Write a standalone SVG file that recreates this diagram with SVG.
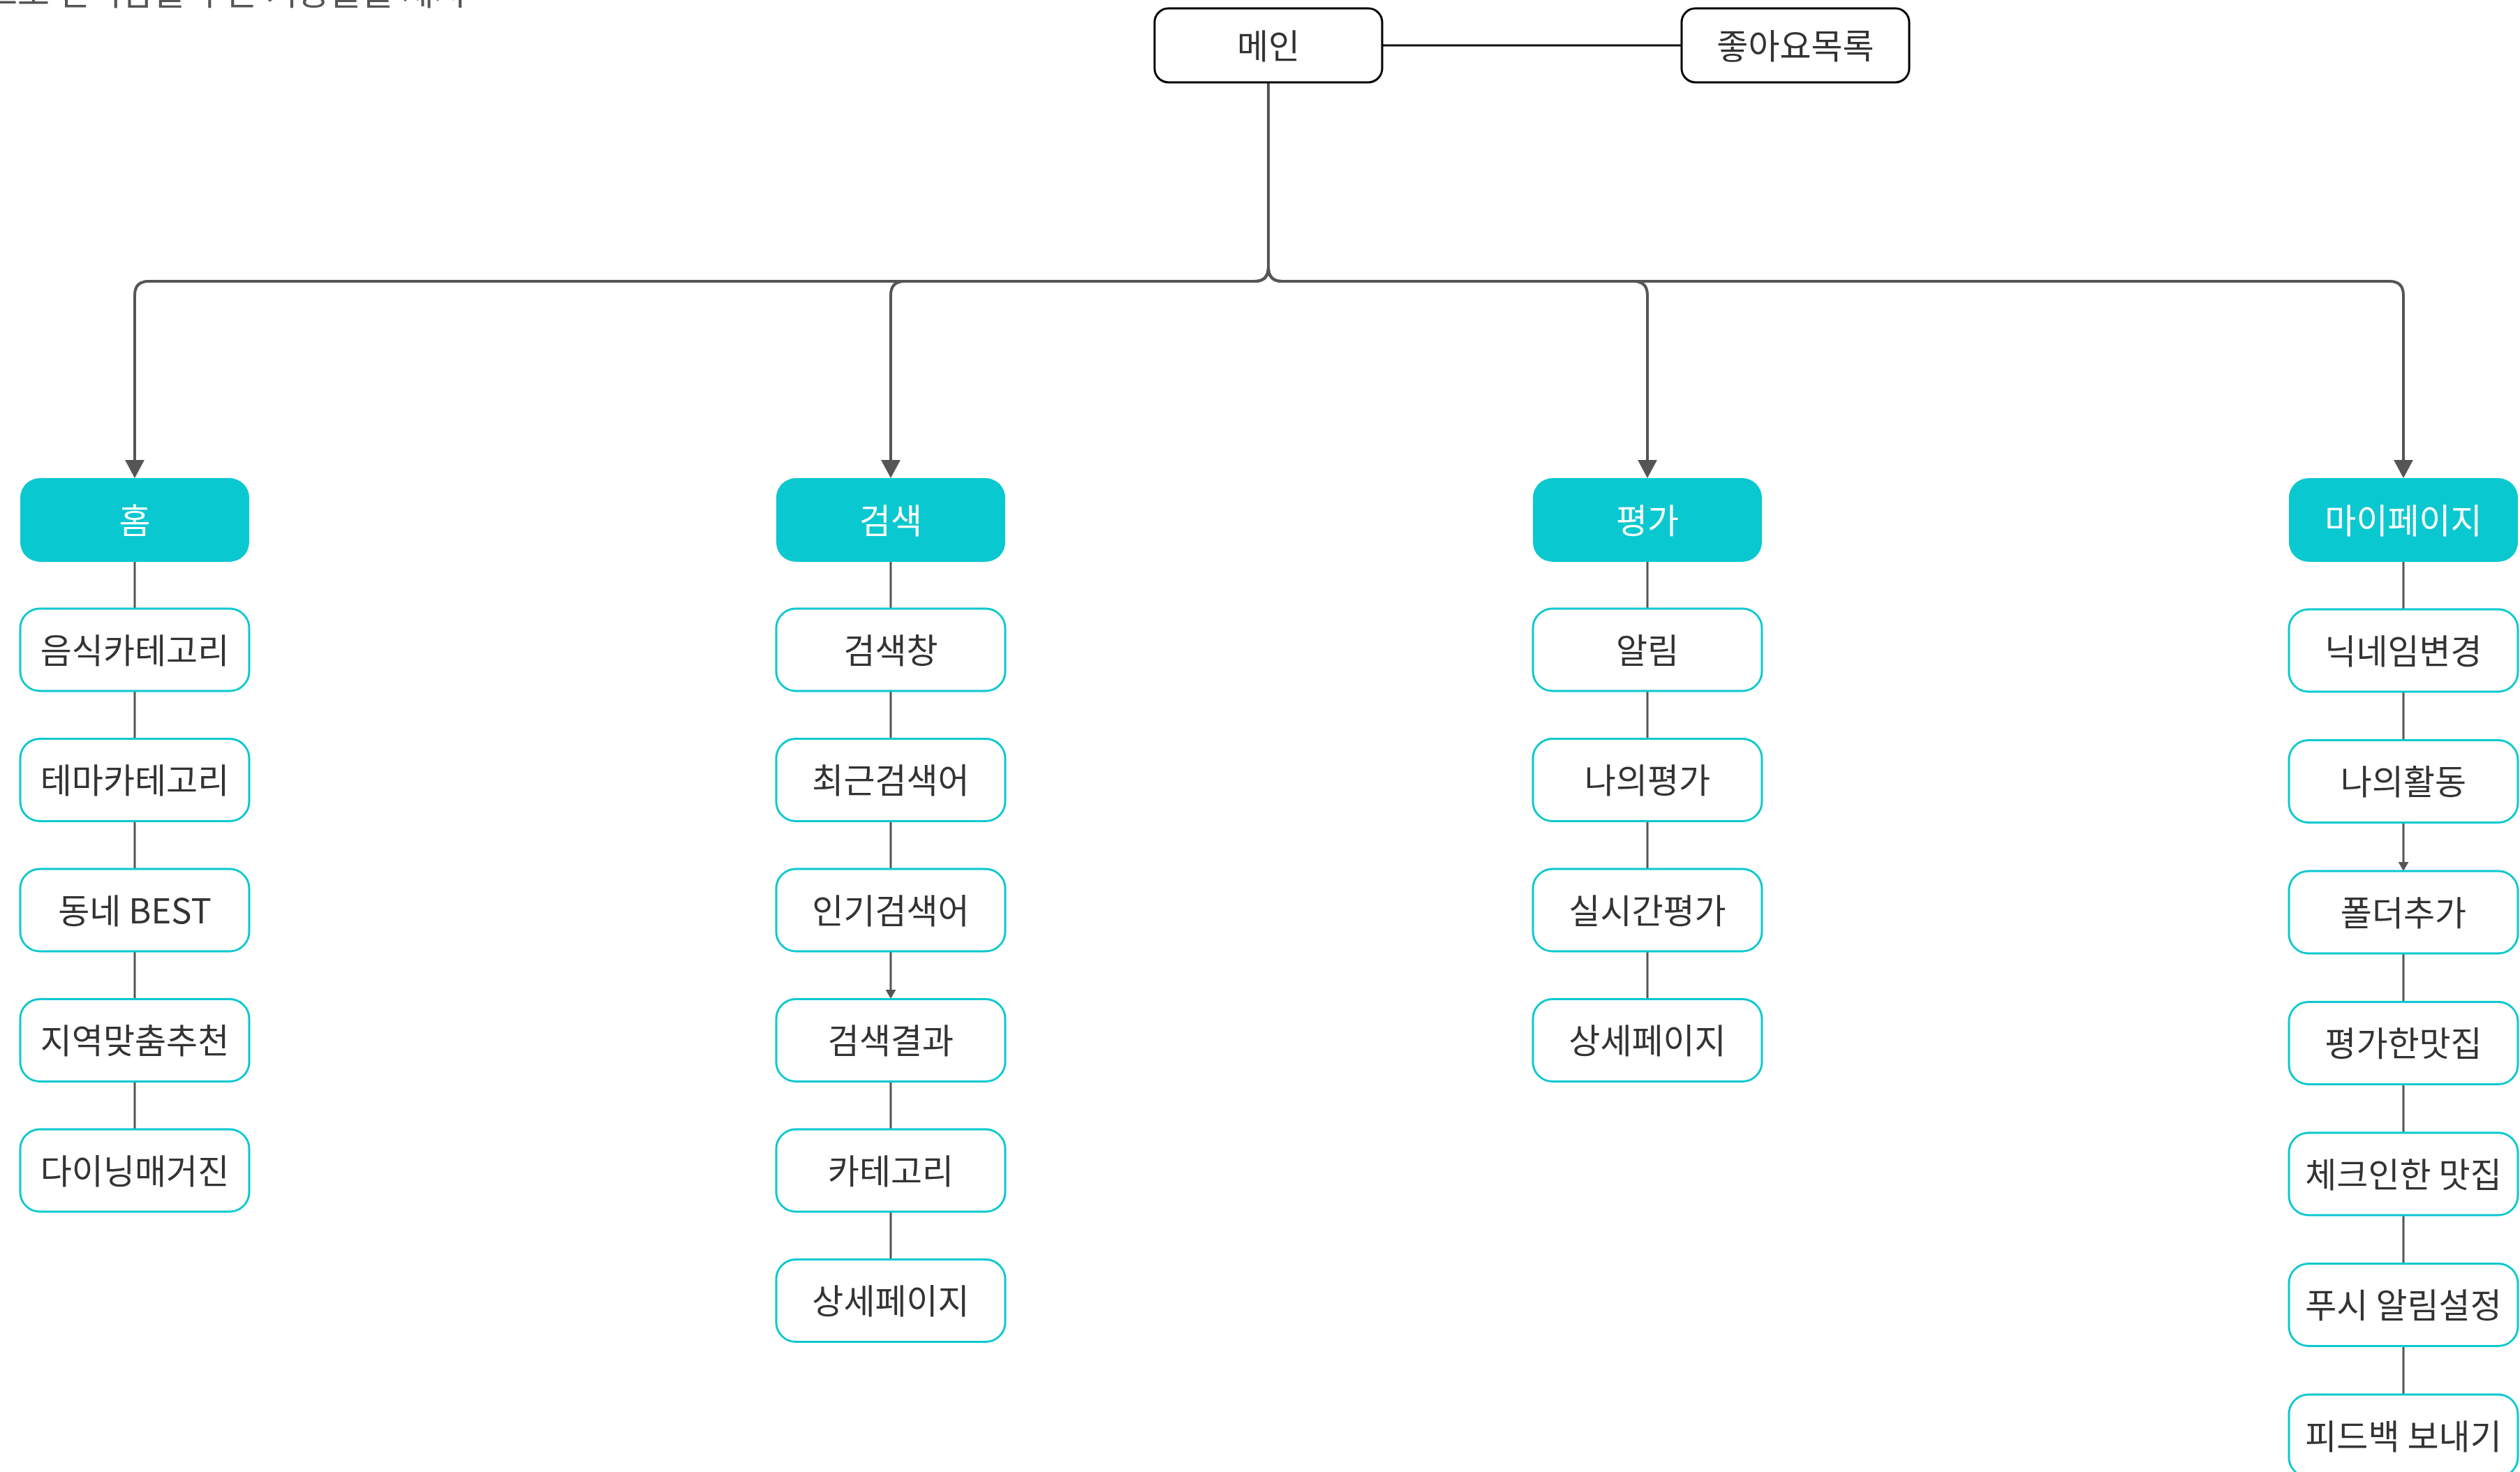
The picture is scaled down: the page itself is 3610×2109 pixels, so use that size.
<svg xmlns="http://www.w3.org/2000/svg" width="3610" height="2109" viewBox="0 0 3610 2109">
<style>
text{font-family:"Noto Sans CJK KR","Noto Sans",sans-serif;font-size:49px;text-anchor:middle;dominant-baseline:central;fill:#333}
g text{transform:translateY(-3px)}
.top rect{fill:#fff;stroke:#000;stroke-width:3}
.hdr rect{fill:#0ac8d0}
.hdr text{fill:#fff}
.sub rect{fill:#fff;stroke:#0ac8d0;stroke-width:3}
.bus{fill:none;stroke:#555;stroke-width:4}
.lnk{fill:none;stroke:#555;stroke-width:3}
.note{text-anchor:start;dominant-baseline:auto;fill:#555;font-size:50px}
</style>
<defs>
<marker id="big" viewBox="0 0 26 28" refX="0" refY="14" markerWidth="26" markerHeight="28" markerUnits="userSpaceOnUse" orient="auto"><path d="M0,0 L26,14 L0,28 z" fill="#555"/></marker>
<marker id="small" viewBox="0 0 13 15" refX="0" refY="7.5" markerWidth="13" markerHeight="15" markerUnits="userSpaceOnUse" orient="auto"><path d="M0,0 L13,7.5 L0,15 z" fill="#555"/></marker>
</defs>
<rect width="3610" height="2109" fill="#fff"/>
<text class="note" x="-21" y="7">드로 편리함을 주는 기능들을 제시</text>

<g id="connectors">
<path class="lnk" d="M1980,65 H2409" style="stroke:#111"/>
<path class="bus" d="M1817,118 V383 Q1817,403 1797,403 H213 Q193,403 193,423 V659" marker-end="url(#big)"/>
<path class="bus" d="M1817,118 V383 Q1817,403 1797,403 H1296 Q1276,403 1276,423 V659" marker-end="url(#big)"/>
<path class="bus" d="M1817,118 V383 Q1817,403 1837,403 H2340 Q2360,403 2360,423 V659" marker-end="url(#big)"/>
<path class="bus" d="M1817,118 V383 Q1817,403 1837,403 H3423 Q3443,403 3443,423 V659" marker-end="url(#big)"/>
<path class="lnk" d="M193,805 V872 M193,990 V1058.5 M193,1176.5 V1245 M193,1363 V1431.5 M193,1549.5 V1618"/>
<path class="lnk" d="M1276,805 V872 M1276,990 V1058.5 M1276,1176.5 V1245 M1276,1549.5 V1618 M1276,1736 V1804.5"/>
<path class="lnk" d="M1276,1363 V1418" marker-end="url(#small)"/>
<path class="lnk" d="M2360,805 V872 M2360,990 V1058.5 M2360,1176.5 V1245 M2360,1363 V1431.5"/>
<path class="lnk" d="M3443,805 V873 M3443,991 V1060.5 M3443,1366 V1435.5 M3443,1553.5 V1623 M3443,1741 V1810.5 M3443,1928.5 V1998"/>
<path class="lnk" d="M3443,1178.5 V1235" marker-end="url(#small)"/>
</g>

<g id="n-main" class="top"><rect x="1654" y="12" width="326" height="106" rx="20"/><text x="1817" y="65">메인</text></g>
<g id="n-like" class="top"><rect x="2409" y="12" width="326" height="106" rx="20"/><text x="2572" y="65">좋아요목록</text></g>

<g id="n-home" class="hdr"><rect x="29" y="685" width="328" height="120" rx="28"/><text x="193" y="745">홈</text></g>
<g id="n-search" class="hdr"><rect x="1112" y="685" width="328" height="120" rx="28"/><text x="1276" y="745">검색</text></g>
<g id="n-rate" class="hdr"><rect x="2196" y="685" width="328" height="120" rx="28"/><text x="2360" y="745">평가</text></g>
<g id="n-my" class="hdr"><rect x="3279" y="685" width="328" height="120" rx="28"/><text x="3443" y="745">마이페이지</text></g>

<g id="n-h1" class="sub"><rect x="29" y="872" width="328" height="118" rx="28"/><text x="193" y="931">음식카테고리</text></g>
<g id="n-h2" class="sub"><rect x="29" y="1058.5" width="328" height="118" rx="28"/><text x="193" y="1117.5">테마카테고리</text></g>
<g id="n-h3" class="sub"><rect x="29" y="1245" width="328" height="118" rx="28"/><text x="193" y="1304">동네 BEST</text></g>
<g id="n-h4" class="sub"><rect x="29" y="1431.5" width="328" height="118" rx="28"/><text x="193" y="1490.5">지역맞춤추천</text></g>
<g id="n-h5" class="sub"><rect x="29" y="1618" width="328" height="118" rx="28"/><text x="193" y="1677">다이닝매거진</text></g>

<g id="n-s1" class="sub"><rect x="1112" y="872" width="328" height="118" rx="28"/><text x="1276" y="931">검색창</text></g>
<g id="n-s2" class="sub"><rect x="1112" y="1058.5" width="328" height="118" rx="28"/><text x="1276" y="1117.5">최근검색어</text></g>
<g id="n-s3" class="sub"><rect x="1112" y="1245" width="328" height="118" rx="28"/><text x="1276" y="1304">인기검색어</text></g>
<g id="n-s4" class="sub"><rect x="1112" y="1431.5" width="328" height="118" rx="28"/><text x="1276" y="1490.5">검색결과</text></g>
<g id="n-s5" class="sub"><rect x="1112" y="1618" width="328" height="118" rx="28"/><text x="1276" y="1677">카테고리</text></g>
<g id="n-s6" class="sub"><rect x="1112" y="1804.5" width="328" height="118" rx="28"/><text x="1276" y="1863.5">상세페이지</text></g>

<g id="n-r1" class="sub"><rect x="2196" y="872" width="328" height="118" rx="28"/><text x="2360" y="931">알림</text></g>
<g id="n-r2" class="sub"><rect x="2196" y="1058.5" width="328" height="118" rx="28"/><text x="2360" y="1117.5">나의평가</text></g>
<g id="n-r3" class="sub"><rect x="2196" y="1245" width="328" height="118" rx="28"/><text x="2360" y="1304">실시간평가</text></g>
<g id="n-r4" class="sub"><rect x="2196" y="1431.5" width="328" height="118" rx="28"/><text x="2360" y="1490.5">상세페이지</text></g>

<g id="n-m1" class="sub"><rect x="3279" y="873" width="328" height="118" rx="28"/><text x="3443" y="932">닉네임변경</text></g>
<g id="n-m2" class="sub"><rect x="3279" y="1060.5" width="328" height="118" rx="28"/><text x="3443" y="1119.5">나의활동</text></g>
<g id="n-m3" class="sub"><rect x="3279" y="1248" width="328" height="118" rx="28"/><text x="3443" y="1307">폴더추가</text></g>
<g id="n-m4" class="sub"><rect x="3279" y="1435.5" width="328" height="118" rx="28"/><text x="3443" y="1494.5">평가한맛집</text></g>
<g id="n-m5" class="sub"><rect x="3279" y="1623" width="328" height="118" rx="28"/><text x="3443" y="1682">체크인한 맛집</text></g>
<g id="n-m6" class="sub"><rect x="3279" y="1810.5" width="328" height="118" rx="28"/><text x="3443" y="1869.5">푸시 알림설정</text></g>
<g id="n-m7" class="sub"><rect x="3279" y="1998" width="328" height="118" rx="28"/><text x="3443" y="2057">피드백 보내기</text></g>
</svg>
